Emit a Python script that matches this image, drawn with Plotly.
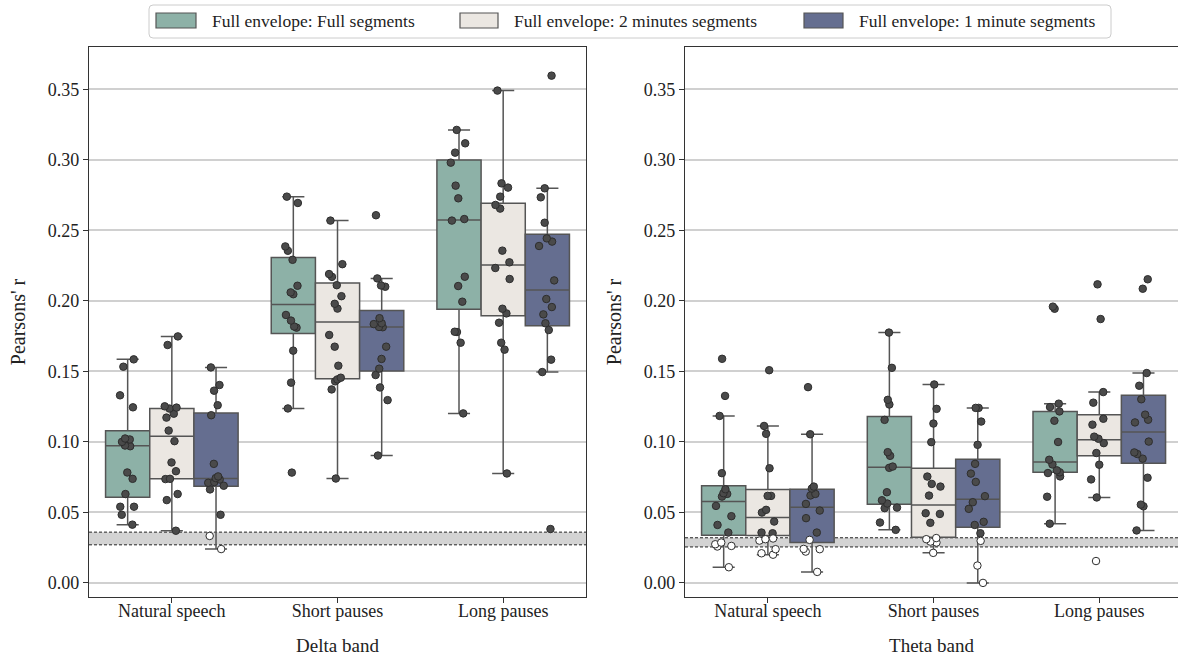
import plotly.graph_objects as go

CATS = ["Natural speech", "Short pauses", "Long pauses"]
HUES = ["Full envelope: Full segments", "Full envelope: 2 minutes segments", "Full envelope: 1 minute segments"]
COLORS = ["#8db1a7", "#ebe7e2", "#656e90"]
Y_TICKS = [0.0, 0.05, 0.10, 0.15, 0.20, 0.25, 0.30, 0.35]

# chance level bands [low, high]
chance_delta = [0.027, 0.036]
chance_theta = [0.0255, 0.032]

# ---- Delta band: per-subject points [natural, short, long]
delta_full_pts = [
    [0.1585, 0.1533, 0.133, 0.1245, 0.1024, 0.1017, 0.100, 0.0974, 0.0969, 0.0783, 0.0738, 0.063, 0.054, 0.054, 0.0483, 0.0413],
    [0.2739, 0.2694, 0.2386, 0.2355, 0.2291, 0.2107, 0.2060, 0.2047, 0.190, 0.186, 0.1818, 0.181, 0.1647, 0.142, 0.1237, 0.0782],
    [0.3212, 0.3117, 0.3051, 0.298, 0.2817, 0.2727, 0.258, 0.2569, 0.2171, 0.2105, 0.1994, 0.1781, 0.1779, 0.1703, 0.1202],
]
delta_2min_pts = [
    [0.1748, 0.1687, 0.1252, 0.1243, 0.1236, 0.120, 0.1172, 0.108, 0.1005, 0.0854, 0.0792, 0.0738, 0.0736, 0.063, 0.0587, 0.037],
    [0.2569, 0.226, 0.219, 0.217, 0.2111, 0.2033, 0.1979, 0.1945, 0.1758, 0.1675, 0.154, 0.1455, 0.1443, 0.1429, 0.1372, 0.074],
    [0.3491, 0.2833, 0.2803, 0.2739, 0.268, 0.2654, 0.2356, 0.2273, 0.2233, 0.2155, 0.1944, 0.1911, 0.1845, 0.1703, 0.1654, 0.0776],
]
delta_1min_pts = [
    [0.1528, 0.1403, 0.1363, 0.126, 0.1189, 0.0844, 0.0755, 0.0743, 0.0733, 0.0715, 0.071, 0.0689, 0.0663, 0.0483, 0.0333, 0.024],
    [0.2607, 0.2159, 0.2109, 0.21, 0.1877, 0.1841, 0.1835, 0.1815, 0.1813, 0.1675, 0.1588, 0.1519, 0.1474, 0.1386, 0.1296, 0.0903],
    [0.3597, 0.2798, 0.2734, 0.2554, 0.2443, 0.242, 0.2389, 0.2145, 0.2013, 0.1956, 0.1904, 0.1841, 0.1793, 0.1583, 0.1495, 0.0382],
]

# ---- Theta band
theta_full_pts = [
    [0.1589, 0.1326, 0.1184, 0.0778, 0.0664, 0.0636, 0.0631, 0.0612, 0.0546, 0.0473, 0.0411, 0.0357, 0.0286, 0.0274, 0.0262, 0.0258, 0.0111],
    [0.1775, 0.1525, 0.1298, 0.1265, 0.1156, 0.0927, 0.0901, 0.0825, 0.0816, 0.0643, 0.0586, 0.0563, 0.0534, 0.053, 0.0428, 0.0376],
    [0.1959, 0.1944, 0.1271, 0.1247, 0.1216, 0.115, 0.0999, 0.0873, 0.084, 0.0798, 0.0784, 0.0779, 0.0755, 0.0611, 0.042],
]
theta_2min_pts = [
    [0.1508, 0.1113, 0.1057, 0.0813, 0.0617, 0.0617, 0.0518, 0.0499, 0.0435, 0.0357, 0.0352, 0.0315, 0.031, 0.030, 0.0239, 0.021, 0.020],
    [0.1407, 0.1234, 0.113, 0.0998, 0.0754, 0.0702, 0.0683, 0.0619, 0.0494, 0.0489, 0.0426, 0.0318, 0.031, 0.0293, 0.0286, 0.0213],
    [0.2117, 0.1871, 0.1353, 0.1278, 0.1164, 0.1122, 0.1037, 0.1022, 0.0991, 0.0921, 0.0838, 0.0734, 0.0606, 0.0155],
]
theta_1min_pts = [
    [0.1388, 0.1054, 0.0683, 0.0669, 0.0631, 0.0620, 0.056, 0.0513, 0.0459, 0.0357, 0.0305, 0.0241, 0.0239, 0.0222, 0.0078],
    [0.1241, 0.1241, 0.1144, 0.0979, 0.0844, 0.0775, 0.0716, 0.0615, 0.0572, 0.0525, 0.0433, 0.0411, 0.0352, 0.0298, 0.0123, 0.0],
    [0.2153, 0.2086, 0.1488, 0.1398, 0.1302, 0.1193, 0.1157, 0.1138, 0.1002, 0.0925, 0.0914, 0.0881, 0.0746, 0.0555, 0.0543, 0.0372],
]

# ---- Box statistics: rows = hues, columns = categories
q1_delta = [[0.0608, 0.1768, 0.1940], [0.0738, 0.1448, 0.1895], [0.0686, 0.1502, 0.1824]]
med_delta = [[0.0972, 0.1974, 0.2573], [0.1040, 0.1850, 0.2254], [0.0740, 0.1815, 0.2077]]
q3_delta = [[0.1078, 0.2308, 0.2999], [0.1236, 0.2126, 0.2692], [0.1205, 0.1931, 0.2472]]
lo_delta = [[0.0413, 0.1237, 0.1202], [0.0370, 0.0740, 0.0776], [0.0240, 0.0903, 0.1495]]
hi_delta = [[0.1585, 0.2739, 0.3212], [0.1748, 0.2569, 0.3491], [0.1528, 0.2159, 0.2798]]

q1_theta = [[0.0338, 0.0558, 0.0784], [0.0336, 0.0324, 0.0902], [0.0286, 0.0395, 0.0848]]
med_theta = [[0.0577, 0.0820, 0.0857], [0.0463, 0.0553, 0.1015], [0.0537, 0.0593, 0.1070]]
q3_theta = [[0.0688, 0.1180, 0.1216], [0.0662, 0.0813, 0.1193], [0.0664, 0.0877, 0.1330]]
lo_theta = [[0.0111, 0.0376, 0.0420], [0.0200, 0.0213, 0.0606], [0.0078, 0.0000, 0.0372]]
hi_theta = [[0.1184, 0.1775, 0.1271], [0.1113, 0.1407, 0.1353], [0.1054, 0.1241, 0.1488]]

FONT = "Liberation Serif, Times New Roman, serif"
EDGE = "#555555"
TXT = "#222222"

W, H = 1178, 659
ML, MR, MT, MB = 89, 0, 47, 62
PW, PH = W - ML - MR, H - MT - MB


def px_x(px):
    return (px - ML) / PW


def px_y(py):
    return (H - MB - py) / PH


fig = go.Figure()

panels = [
    dict(xa="x", ya="y", pts=[delta_full_pts, delta_2min_pts, delta_1min_pts],
         q1=q1_delta, med=med_delta, q3=q3_delta, lo=lo_delta, hi=hi_delta, chance=chance_delta),
    dict(xa="x2", ya="y2", pts=[theta_full_pts, theta_2min_pts, theta_1min_pts],
         q1=q1_theta, med=med_theta, q3=q3_theta, lo=lo_theta, hi=hi_theta, chance=chance_theta),
]

# boxes first
for pi, p in enumerate(panels):
    for h in range(3):
        fig.add_trace(go.Box(
            x=CATS, q1=p["q1"][h], median=p["med"][h], q3=p["q3"][h],
            lowerfence=p["lo"][h], upperfence=p["hi"][h],
            name=HUES[h], showlegend=False,
            offsetgroup=HUES[h], fillcolor=COLORS[h],
            line=dict(color=EDGE, width=1.5), whiskerwidth=0.5,
            boxpoints=False, hoverinfo="skip",
            xaxis=p["xa"], yaxis=p["ya"],
        ))

# strip points on top
for pi, p in enumerate(panels):
    thr = p["chance"][1]
    for h in range(3):
        for kind in ("dark", "white"):
            xs, ys = [], []
            for ci, cat in enumerate(CATS):
                for v in p["pts"][h][ci]:
                    below = v < thr
                    if (kind == "white") == below:
                        xs.append(cat)
                        ys.append(v)
            if not ys:
                continue
            fig.add_trace(go.Box(
                x=xs, y=ys, name=HUES[h], showlegend=False,
                offsetgroup=HUES[h], boxpoints="all", jitter=0.45, pointpos=0,
                fillcolor="rgba(0,0,0,0)", line=dict(width=0, color="rgba(0,0,0,0)"),
                marker=dict(color="#4a4a4a" if kind == "dark" else "#ffffff", size=7.5,
                            line=dict(color="#2e2e2e", width=1)),
                hoverinfo="skip", xaxis=p["xa"], yaxis=p["ya"],
            ))

# chance bands
shapes = []
for p in panels:
    lo, hi = p["chance"]
    xref = p["xa"] + " domain"
    shapes.append(dict(type="rect", xref=xref, yref=p["ya"], x0=0, x1=1, y0=lo, y1=hi,
                       fillcolor="#d3d3d3", line=dict(width=0), layer="below"))
    for yy in (lo, hi):
        shapes.append(dict(type="line", xref=xref, yref=p["ya"], x0=0, x1=1, y0=yy, y1=yy,
                           line=dict(color="#222222", width=1, dash="3px,2px"), layer="below"))

# manual legend (rounded frame, wide swatches, real text)
lx0, lx1, ly0, ly1, r = 149, 1111, 5, 38, 4
rx, ry = r / PW, r / PH
X0, X1, Y0, Y1 = px_x(lx0), px_x(lx1), px_y(ly1), px_y(ly0)
path = (f"M{X0+rx},{Y1} L{X1-rx},{Y1} Q{X1},{Y1} {X1},{Y1-ry} L{X1},{Y0+ry} "
        f"Q{X1},{Y0} {X1-rx},{Y0} L{X0+rx},{Y0} Q{X0},{Y0} {X0},{Y0+ry} "
        f"L{X0},{Y1-ry} Q{X0},{Y1} {X0+rx},{Y1} Z")
shapes.append(dict(type="path", xref="paper", yref="paper", path=path,
                   fillcolor="white", line=dict(color="#cccccc", width=1), layer="above"))
swatch_px = [(156, 196), (460, 498), (804, 843)]
text_px = [210, 512, 857]
annotations = []
for h in range(3):
    sx0, sx1 = swatch_px[h]
    shapes.append(dict(type="rect", xref="paper", yref="paper",
                       x0=px_x(sx0), x1=px_x(sx1), y0=px_y(28), y1=px_y(13),
                       fillcolor=COLORS[h], line=dict(color=EDGE, width=1.2), layer="above"))
    annotations.append(dict(xref="paper", yref="paper", x=px_x(text_px[h]), y=px_y(20.5),
                            xanchor="left", yanchor="middle", showarrow=False,
                            text=HUES[h], font=dict(family=FONT, size=17.5, color=TXT)))

yaxis_common = dict(
    range=[-0.01, 0.38], tickvals=Y_TICKS, tickformat=".2f",
    showgrid=True, gridcolor="#d0d0d0", gridwidth=1.5, zeroline=False,
    showline=True, linecolor="#333333", linewidth=1.3,
    ticks="outside", ticklen=5, tickcolor="#333333", tickwidth=1.2,
    tickfont=dict(family=FONT, size=18, color=TXT),
    title=dict(text="Pearsons' r", font=dict(family=FONT, size=20, color=TXT), standoff=16),
)
xaxis_common = dict(
    type="category", categoryorder="array", categoryarray=CATS,
    showgrid=False, zeroline=False,
    showline=True, linecolor="#333333", linewidth=1.3, mirror=True,
    ticks="outside", ticklen=5, tickcolor="#333333", tickwidth=1.2,
    tickfont=dict(family=FONT, size=18, color=TXT),
    ticklabelstandoff=-8,
)

fig.update_layout(
    width=W, height=H,
    margin=dict(l=ML, r=MR, t=MT, b=MB, autoexpand=False),
    paper_bgcolor="white", plot_bgcolor="white",
    boxmode="group", boxgap=0.2, boxgroupgap=0.0,
    font=dict(family=FONT, size=17, color=TXT),
    shapes=shapes, annotations=annotations,
    xaxis=dict(**xaxis_common, domain=[0, 0.4564], range=[-0.5, 2.5], anchor="y",
               title=dict(text="Delta band", font=dict(family=FONT, size=19, color=TXT), standoff=18)),
    xaxis2=dict(**xaxis_common, domain=[0.5473, 1.0], range=[-0.5, 2.475], anchor="y2",
                title=dict(text="Theta band", font=dict(family=FONT, size=19, color=TXT), standoff=18)),
    yaxis=dict(**yaxis_common, anchor="x", mirror=True),
    yaxis2=dict(**yaxis_common, anchor="x2", mirror=False),
    showlegend=False,
)

fig.write_html("out.html", config={"displayModeBar": False},
               post_script="document.body.style.margin='0px';")
